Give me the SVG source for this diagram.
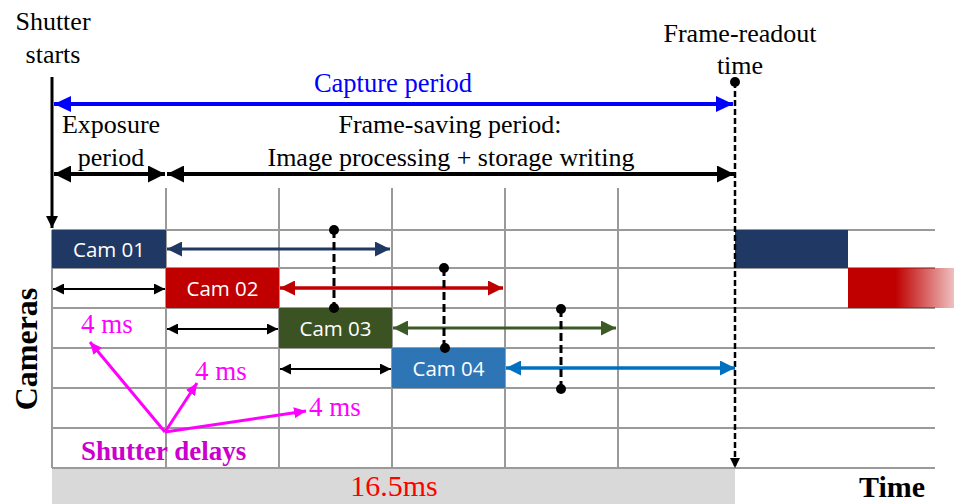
<svg xmlns="http://www.w3.org/2000/svg" width="954" height="504" viewBox="0 0 954 504">
<defs>
<style>
.serif{font-family:"Liberation Serif","Times New Roman",serif;}
.lbl{font-size:26px;fill:#000;}
.cam{font-family:"Open Sans","Liberation Sans",sans-serif;font-size:20.5px;fill:#fff;text-anchor:middle;}
.grid{stroke:#9a9a9a;stroke-width:2;fill:none;}
.mag{fill:#ff00ff;font-size:27px;}
</style>
<marker id="hBlue" markerUnits="userSpaceOnUse" viewBox="0 0 17 16" refX="17" refY="8" markerWidth="17" markerHeight="16" orient="auto-start-reverse"><path d="M0,0L17,8L0,16z" fill="#0000ff"/></marker>
<marker id="hBlack" markerUnits="userSpaceOnUse" viewBox="0 0 17 17" refX="17" refY="8.5" markerWidth="17" markerHeight="17" orient="auto-start-reverse"><path d="M0,0L17,8.5L0,17z" fill="#000"/></marker>
<marker id="hNavy" markerUnits="userSpaceOnUse" viewBox="0 0 15 15" refX="15" refY="7.5" markerWidth="15" markerHeight="15" orient="auto-start-reverse"><path d="M0,0L15,7.5L0,15z" fill="#203864"/></marker>
<marker id="hRed" markerUnits="userSpaceOnUse" viewBox="0 0 15 15" refX="15" refY="7.5" markerWidth="15" markerHeight="15" orient="auto-start-reverse"><path d="M0,0L15,7.5L0,15z" fill="#c00000"/></marker>
<marker id="hGreen" markerUnits="userSpaceOnUse" viewBox="0 0 15 15" refX="15" refY="7.5" markerWidth="15" markerHeight="15" orient="auto-start-reverse"><path d="M0,0L15,7.5L0,15z" fill="#3b5a26"/></marker>
<marker id="hLBlue" markerUnits="userSpaceOnUse" viewBox="0 0 15 15" refX="15" refY="7.5" markerWidth="15" markerHeight="15" orient="auto-start-reverse"><path d="M0,0L15,7.5L0,15z" fill="#0070c0"/></marker>
<marker id="hThin" markerUnits="userSpaceOnUse" viewBox="0 0 11 11" refX="11" refY="5.5" markerWidth="11" markerHeight="11" orient="auto-start-reverse"><path d="M0,0L11,5.5L0,11z" fill="#000"/></marker>
<marker id="hMag" markerUnits="userSpaceOnUse" viewBox="0 0 12 11" refX="12" refY="5.5" markerWidth="12" markerHeight="11" orient="auto"><path d="M0,0L12,5.5L0,11z" fill="#ff00ff"/></marker>
<marker id="hShut" markerUnits="userSpaceOnUse" viewBox="0 0 12 14" refX="12" refY="6" markerWidth="12" markerHeight="14" orient="auto"><path d="M0,0L12,6L0,12z" fill="#000"/></marker>
<marker id="hDash" markerUnits="userSpaceOnUse" viewBox="0 0 10 10" refX="10" refY="5" markerWidth="10" markerHeight="10" orient="auto"><path d="M0,0L10,5L0,10z" fill="#000"/></marker>
<linearGradient id="fade" x1="848" y1="0" x2="954" y2="0" gradientUnits="userSpaceOnUse">
<stop offset="0" stop-color="#c00000"/>
<stop offset="0.45" stop-color="#c00000"/>
<stop offset="1" stop-color="#c00000" stop-opacity="0.25"/>
</linearGradient>
</defs>
<rect width="954" height="504" fill="#fff"/>

<g id="grid">
<rect x="52" y="468" width="683" height="36" fill="#d9d9d9"/>
<path class="grid" d="M52,230H935M52,268H935M52,308H935M52,348H935M52,388H935M52,428H935M52,468H935"/>
<path class="grid" d="M52,230V468M166,188V468M279,188V468M392,188V468M505,188V468M618,188V468"/>
</g>

<g id="cam01"><rect x="52" y="230" width="114" height="38" fill="#203864"/><text class="cam" x="109" y="256.5">Cam 01</text></g>
<g id="cam02"><rect x="166" y="268" width="113" height="40" fill="#c00000"/><text class="cam" x="222.5" y="295.5">Cam 02</text></g>
<g id="cam03"><rect x="279" y="308" width="113" height="40" fill="#3b5323"/><text class="cam" x="335.5" y="335.5">Cam 03</text></g>
<g id="cam04"><rect x="392" y="348" width="113" height="40" fill="#2e75b6"/><text class="cam" x="448.5" y="375.5">Cam 04</text></g>
<g id="next01"><rect x="735" y="230" width="113" height="38" fill="#203864"/></g>
<g id="next02"><rect x="848" y="268" width="106" height="40" fill="url(#fade)"/></g>

<g id="connectors">
<line x1="52" y1="77" x2="52" y2="228" stroke="#000" stroke-width="3" marker-end="url(#hShut)"/>
<line x1="54" y1="104" x2="733" y2="104" stroke="#0000ff" stroke-width="4" marker-start="url(#hBlue)" marker-end="url(#hBlue)"/>
<line x1="54" y1="174" x2="165" y2="174" stroke="#000" stroke-width="4" marker-start="url(#hBlack)" marker-end="url(#hBlack)"/>
<line x1="167" y1="174" x2="734" y2="174" stroke="#000" stroke-width="4" marker-start="url(#hBlack)" marker-end="url(#hBlack)"/>
<line x1="735" y1="82" x2="735" y2="468" stroke="#000" stroke-width="2.5" stroke-dasharray="6,3" marker-end="url(#hDash)"/>
<circle cx="735" cy="82" r="5" fill="#000"/>

<line x1="167" y1="249" x2="390" y2="249" stroke="#203864" stroke-width="3" marker-start="url(#hNavy)" marker-end="url(#hNavy)"/>
<line x1="280" y1="288" x2="503" y2="288" stroke="#c00000" stroke-width="3.5" marker-start="url(#hRed)" marker-end="url(#hRed)"/>
<line x1="393" y1="328" x2="616" y2="328" stroke="#3b5a26" stroke-width="3" marker-start="url(#hGreen)" marker-end="url(#hGreen)"/>
<line x1="506" y1="368" x2="735" y2="368" stroke="#0070c0" stroke-width="3.5" marker-start="url(#hLBlue)" marker-end="url(#hLBlue)"/>

<line x1="53" y1="289" x2="165" y2="289" stroke="#000" stroke-width="2.2" marker-start="url(#hThin)" marker-end="url(#hThin)"/>
<line x1="167" y1="329" x2="278" y2="329" stroke="#000" stroke-width="2.2" marker-start="url(#hThin)" marker-end="url(#hThin)"/>
<line x1="280" y1="369" x2="391" y2="369" stroke="#000" stroke-width="2.2" marker-start="url(#hThin)" marker-end="url(#hThin)"/>

<g stroke="#000" stroke-width="3" stroke-dasharray="8,4">
<line x1="334" y1="230" x2="334" y2="308"/>
<line x1="444" y1="268" x2="444" y2="348"/>
<line x1="561" y1="309" x2="561" y2="389"/>
</g>
<g fill="#000">
<circle cx="334" cy="230" r="5"/><circle cx="334" cy="308" r="5"/>
<circle cx="444" cy="268" r="5"/><circle cx="445" cy="348" r="5"/>
<circle cx="561" cy="309" r="5"/><circle cx="561" cy="389" r="5"/>
</g>

<g stroke="#ff00ff" stroke-width="3" fill="none">
<line x1="165" y1="432" x2="90" y2="342" marker-end="url(#hMag)"/>
<line x1="165" y1="432" x2="197" y2="383" marker-end="url(#hMag)"/>
<line x1="165" y1="432" x2="306" y2="411" marker-end="url(#hMag)"/>
</g>
</g>

<g id="labels" class="serif">
<text class="lbl" x="53" y="30" text-anchor="middle">Shutter</text>
<text class="lbl" x="53" y="63" text-anchor="middle">starts</text>
<text x="393" y="92" text-anchor="middle" font-size="26.5" fill="#0000ff">Capture period</text>
<text class="lbl" x="111" y="133" text-anchor="middle">Exposure</text>
<text class="lbl" x="111" y="166" text-anchor="middle">period</text>
<text class="lbl" x="450" y="133" text-anchor="middle">Frame-saving period:</text>
<text class="lbl" x="451" y="166" text-anchor="middle">Image processing + storage writing</text>
<text class="lbl" x="740" y="42" text-anchor="middle">Frame-readout</text>
<text class="lbl" x="740" y="74" text-anchor="middle">time</text>
<text x="37" y="349" transform="rotate(-90 37 349)" text-anchor="middle" font-size="32" font-weight="bold" fill="#000">Cameras</text>
<text class="mag" x="81" y="333">4 ms</text>
<text class="mag" x="195" y="380">4 ms</text>
<text class="mag" x="309" y="416">4 ms</text>
<text x="81" y="460" font-size="27" font-weight="bold" fill="#cc00cc">Shutter delays</text>
<text x="394" y="496" text-anchor="middle" font-size="30" fill="#ff0000">16.5ms</text>
<text x="892" y="497" text-anchor="middle" font-size="30" font-weight="bold" fill="#000">Time</text>
</g>
</svg>
